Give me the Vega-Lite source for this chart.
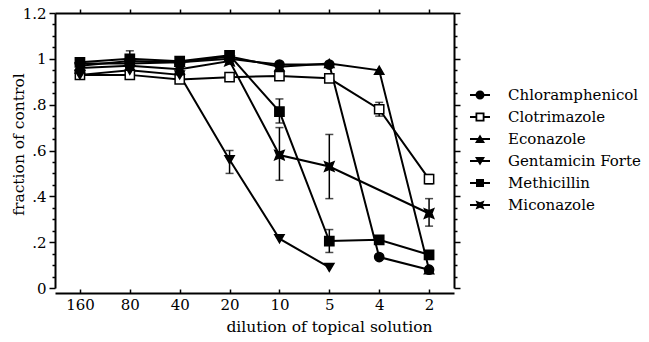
{
  "$schema": "https://vega.github.io/schema/vega-lite/v6.json",
  "width": 399,
  "height": 275,
  "autosize": {"type": "none"},
  "padding": {"left": 55, "top": 13, "right": 195, "bottom": 54},
  "background": "white",
  "config": {
    "view": {"stroke": null},
    "font": "DejaVu Serif",
    "axis": {"domainColor": "black", "domainWidth": 2, "tickColor": "black", "tickWidth": 1.5, "grid": false, "labelColor": "black", "titleColor": "black", "labelFont": "DejaVu Serif", "titleFont": "DejaVu Serif", "labelFontSize": 15, "titleFontSize": 15.5, "titleFontWeight": "normal"},
    "legend": {"labelFont": "DejaVu Serif", "labelFontSize": 15, "labelColor": "black"}
  },
  "datasets": {
    "pts": [
      {"drug": "Chloramphenicol", "dil": "160", "v": 0.98},
      {"drug": "Chloramphenicol", "dil": "80", "v": 0.98},
      {"drug": "Chloramphenicol", "dil": "40", "v": 0.985},
      {"drug": "Chloramphenicol", "dil": "20", "v": 1.0},
      {"drug": "Chloramphenicol", "dil": "10", "v": 0.975},
      {"drug": "Chloramphenicol", "dil": "5", "v": 0.975},
      {"drug": "Chloramphenicol", "dil": "4", "v": 0.135},
      {"drug": "Chloramphenicol", "dil": "2", "v": 0.08},
      {"drug": "Clotrimazole", "dil": "160", "v": 0.93},
      {"drug": "Clotrimazole", "dil": "80", "v": 0.93},
      {"drug": "Clotrimazole", "dil": "40", "v": 0.91},
      {"drug": "Clotrimazole", "dil": "20", "v": 0.92},
      {"drug": "Clotrimazole", "dil": "10", "v": 0.925},
      {"drug": "Clotrimazole", "dil": "5", "v": 0.915},
      {"drug": "Clotrimazole", "dil": "4", "v": 0.78},
      {"drug": "Clotrimazole", "dil": "2", "v": 0.475},
      {"drug": "Econazole", "dil": "160", "v": 0.97},
      {"drug": "Econazole", "dil": "80", "v": 0.99},
      {"drug": "Econazole", "dil": "40", "v": 0.985},
      {"drug": "Econazole", "dil": "20", "v": 1.01},
      {"drug": "Econazole", "dil": "10", "v": 0.965},
      {"drug": "Econazole", "dil": "5", "v": 0.98},
      {"drug": "Econazole", "dil": "4", "v": 0.95},
      {"drug": "Econazole", "dil": "2", "v": 0.08},
      {"drug": "Gentamicin Forte", "dil": "160", "v": 0.93},
      {"drug": "Gentamicin Forte", "dil": "80", "v": 0.95},
      {"drug": "Gentamicin Forte", "dil": "40", "v": 0.93},
      {"drug": "Gentamicin Forte", "dil": "20", "v": 0.56},
      {"drug": "Gentamicin Forte", "dil": "10", "v": 0.215},
      {"drug": "Gentamicin Forte", "dil": "5", "v": 0.09},
      {"drug": "Methicillin", "dil": "160", "v": 0.985},
      {"drug": "Methicillin", "dil": "80", "v": 1.0},
      {"drug": "Methicillin", "dil": "40", "v": 0.99},
      {"drug": "Methicillin", "dil": "20", "v": 1.015},
      {"drug": "Methicillin", "dil": "10", "v": 0.77},
      {"drug": "Methicillin", "dil": "5", "v": 0.205},
      {"drug": "Methicillin", "dil": "4", "v": 0.21},
      {"drug": "Methicillin", "dil": "2", "v": 0.145},
      {"drug": "Miconazole", "dil": "160", "v": 0.96},
      {"drug": "Miconazole", "dil": "80", "v": 0.97},
      {"drug": "Miconazole", "dil": "40", "v": 0.955},
      {"drug": "Miconazole", "dil": "20", "v": 0.99},
      {"drug": "Miconazole", "dil": "10", "v": 0.58},
      {"drug": "Miconazole", "dil": "5", "v": 0.53},
      {"drug": "Miconazole", "dil": "2", "v": 0.325}
    ],
    "err": [
      {"drug": "Methicillin", "dil": "80", "lo": 0.965, "hi": 1.035},
      {"drug": "Clotrimazole", "dil": "4", "lo": 0.75, "hi": 0.81},
      {"drug": "Clotrimazole", "dil": "2", "lo": 0.455, "hi": 0.495},
      {"drug": "Gentamicin Forte", "dil": "20", "lo": 0.5, "hi": 0.6},
      {"drug": "Methicillin", "dil": "10", "lo": 0.72, "hi": 0.825},
      {"drug": "Methicillin", "dil": "5", "lo": 0.155, "hi": 0.255},
      {"drug": "Miconazole", "dil": "10", "lo": 0.47, "hi": 0.7},
      {"drug": "Miconazole", "dil": "5", "lo": 0.39, "hi": 0.67},
      {"drug": "Miconazole", "dil": "2", "lo": 0.27, "hi": 0.39}
    ]
  },
  "layer": [
    {
      "data": {"name": "pts"},
      "mark": {"type": "line", "color": "black", "strokeWidth": 2},
      "encoding": {
        "x": {"field": "dil", "type": "ordinal", "sort": ["160", "80", "40", "20", "10", "5", "4", "2"],
          "scale": {"type": "point", "padding": 0.5, "domain": ["160", "80", "40", "20", "10", "5", "4", "2"]},
          "axis": {"orient": "bottom", "title": "dilution of topical solution", "offset": 5, "tickSize": -4, "labelPadding": 8, "labelAngle": 0, "titleX": 274, "titleY": 33, "titleAlign": "center", "titleBaseline": "middle"}},
        "y": {"field": "v", "type": "quantitative", "scale": {"domain": [0, 1.2], "nice": false, "zero": true},
          "axis": {"orient": "left", "title": "fraction of control",
            "values": [0, 0.05, 0.1, 0.15, 0.2, 0.25, 0.3, 0.35, 0.4, 0.45, 0.5, 0.55, 0.6, 0.65, 0.7, 0.75, 0.8, 0.85, 0.9, 0.95, 1, 1.05, 1.1, 1.15, 1.2],
            "labelExpr": "abs(datum.value*5 - round(datum.value*5)) < 0.001 ? (datum.value == 0 ? '0' : datum.value == 1 ? '1' : datum.value > 1 ? '1.2' : '.' + round(datum.value*10)) : ''",
            "labelOverlap": false, "labelPadding": 3,
            "tickSize": {"condition": {"test": "abs(datum.value*5 - round(datum.value*5)) < 0.001", "value": 6}, "value": 3},
            "titleX": -37, "titleY": 131, "titleAlign": "center", "titleBaseline": "middle"}},
        "detail": {"field": "drug"}
      }
    },
    {
      "data": {"name": "err"},
      "mark": {"type": "errorbar", "ticks": {"size": 8, "thickness": 1.5, "color": "black"}, "rule": {"strokeWidth": 1.5, "color": "black"}},
      "encoding": {
        "x": {"field": "dil", "type": "ordinal", "sort": ["160", "80", "40", "20", "10", "5", "4", "2"], "axis": null},
        "y": {"field": "lo", "type": "quantitative", "axis": null},
        "y2": {"field": "hi"}
      }
    },
    {
      "data": {"name": "pts"},
      "mark": {"type": "point", "filled": true, "size": 85, "stroke": "black", "strokeWidth": 1.5, "opacity": 1},
      "encoding": {
        "x": {"field": "dil", "type": "ordinal", "sort": ["160", "80", "40", "20", "10", "5", "4", "2"],
          "axis": {"orient": "top", "labels": false, "title": null, "tickSize": 4, "domainWidth": 2}},
        "y": {"field": "v", "type": "quantitative",
          "axis": {"orient": "right", "labels": false, "title": null,
            "values": [0, 0.05, 0.1, 0.15, 0.2, 0.25, 0.3, 0.35, 0.4, 0.45, 0.5, 0.55, 0.6, 0.65, 0.7, 0.75, 0.8, 0.85, 0.9, 0.95, 1, 1.05, 1.1, 1.15, 1.2],
            "tickSize": {"condition": {"test": "abs(datum.value*5 - round(datum.value*5)) < 0.001", "value": 6}, "value": 3}}},
        "shape": {"field": "drug", "type": "nominal", "legend": null,
          "scale": {"domain": ["Chloramphenicol", "Clotrimazole", "Econazole", "Gentamicin Forte", "Methicillin", "Miconazole"],
            "range": ["circle", "square", "triangle-up", "triangle-down", "square", "M-1,-1L0,-0.6L1,-1L0.6,0L1,1L0,0.6L-1,1L-0.6,0Z"]}},
        "fill": {"field": "drug", "type": "nominal", "legend": null,
          "scale": {"domain": ["Chloramphenicol", "Clotrimazole", "Econazole", "Gentamicin Forte", "Methicillin", "Miconazole"],
            "range": ["black", "white", "black", "black", "black", "black"]}}
      }
    },
    {
      "data": {"name": "pts"},
      "mark": {"type": "point", "filled": true, "color": "black", "opacity": 0, "size": 10},
      "encoding": {
        "x": {"field": "dil", "type": "ordinal", "sort": ["160", "80", "40", "20", "10", "5", "4", "2"], "axis": null},
        "y": {"field": "v", "type": "quantitative", "axis": null},
        "shape": {"field": "drug", "type": "nominal",
          "scale": {"domain": ["Chloramphenicol", "Clotrimazole", "Econazole", "Gentamicin Forte", "Methicillin", "Miconazole"],
            "range": [
              "M-1,-0.1H1V0.1H-1ZM-0.45,0A0.45,0.45 0 1,1 0.45,0A0.45,0.45 0 1,1 -0.45,0Z",
              "M-1,-0.1H-0.45V0.1H-1ZM0.45,-0.1H1V0.1H0.45ZM-0.45,-0.45H0.45V0.45H-0.45ZM-0.27,-0.27V0.27H0.27V-0.27Z",
              "M-1,-0.1H1V0.1H-1ZM-0.5,0.4L0,-0.45L0.5,0.4Z",
              "M-1,-0.1H1V0.1H-1ZM-0.5,-0.4L0.5,-0.4L0,0.45Z",
              "M-1,-0.1H1V0.1H-1ZM-0.4,-0.4H0.4V0.4H-0.4Z",
              "M-1,-0.1H1V0.1H-1ZM-0.45,-0.45L0,-0.27L0.45,-0.45L0.27,0L0.45,0.45L0,0.27L-0.45,0.45L-0.27,0Z"
            ]},
          "legend": {"title": null, "orient": "none", "legendX": 415, "legendY": 72, "padding": 0, "symbolSize": 400, "symbolOpacity": 1, "symbolFillColor": "black", "symbolStrokeWidth": 0, "labelOffset": 18, "rowPadding": 4, "labelLimit": 300}}
      }
    }
  ],
  "resolve": {
    "scale": {"shape": "independent", "fill": "independent"},
    "axis": {"x": "independent", "y": "independent"},
    "legend": {"shape": "independent"}
  }
}
